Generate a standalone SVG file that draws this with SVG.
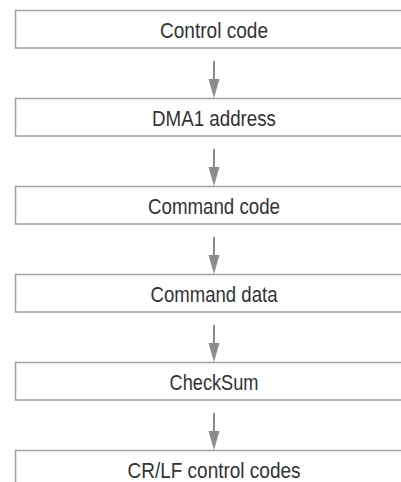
<svg xmlns="http://www.w3.org/2000/svg" width="401" height="482" viewBox="0 0 401 482">
<style>
.box{fill:#fff;stroke:#a6a6a6;stroke-width:1.6}
.lbl{font-family:"Liberation Sans Narrow","Liberation Sans",Arial,sans-serif;font-size:22px;fill:#333;text-anchor:middle}
.arr{stroke:#8c8c8c;stroke-width:2;fill:none}
.head{fill:#8c8c8c}
</style>
<rect width="401" height="482" fill="#fff"/>
<g id="connectors">
<line class="arr" x1="214" y1="61" x2="214" y2="82"/><polygon class="head" points="208.5,79 219.5,79 214,98"/>
<line class="arr" x1="214" y1="149" x2="214" y2="170"/><polygon class="head" points="208.5,167 219.5,167 214,186"/>
<line class="arr" x1="214" y1="237" x2="214" y2="258"/><polygon class="head" points="208.5,255 219.5,255 214,274"/>
<line class="arr" x1="214" y1="325" x2="214" y2="346"/><polygon class="head" points="208.5,343 219.5,343 214,362"/>
<line class="arr" x1="214" y1="413" x2="214" y2="434"/><polygon class="head" points="208.5,431 219.5,431 214,450"/>
</g>
<g id="n1"><rect class="box" x="15.5" y="10.5" width="390" height="37.5"/><text class="lbl" x="214" y="37.5" textLength="108" lengthAdjust="spacingAndGlyphs">Control code</text></g>
<g id="n2"><rect class="box" x="15.5" y="98.5" width="390" height="37.5"/><text class="lbl" x="214" y="125.5" textLength="124" lengthAdjust="spacingAndGlyphs">DMA1 address</text></g>
<g id="n3"><rect class="box" x="15.5" y="186.5" width="390" height="37.5"/><text class="lbl" x="214" y="213.5" textLength="132" lengthAdjust="spacingAndGlyphs">Command code</text></g>
<g id="n4"><rect class="box" x="15.5" y="274.5" width="390" height="37.5"/><text class="lbl" x="214" y="301.5" textLength="127" lengthAdjust="spacingAndGlyphs">Command data</text></g>
<g id="n5"><rect class="box" x="15.5" y="362.5" width="390" height="37.5"/><text class="lbl" x="214" y="389.5" textLength="89" lengthAdjust="spacingAndGlyphs">CheckSum</text></g>
<g id="n6"><rect class="box" x="15.5" y="450.5" width="390" height="40"/><text class="lbl" x="214" y="477.5" textLength="173" lengthAdjust="spacingAndGlyphs">CR/LF control codes</text></g>
</svg>
